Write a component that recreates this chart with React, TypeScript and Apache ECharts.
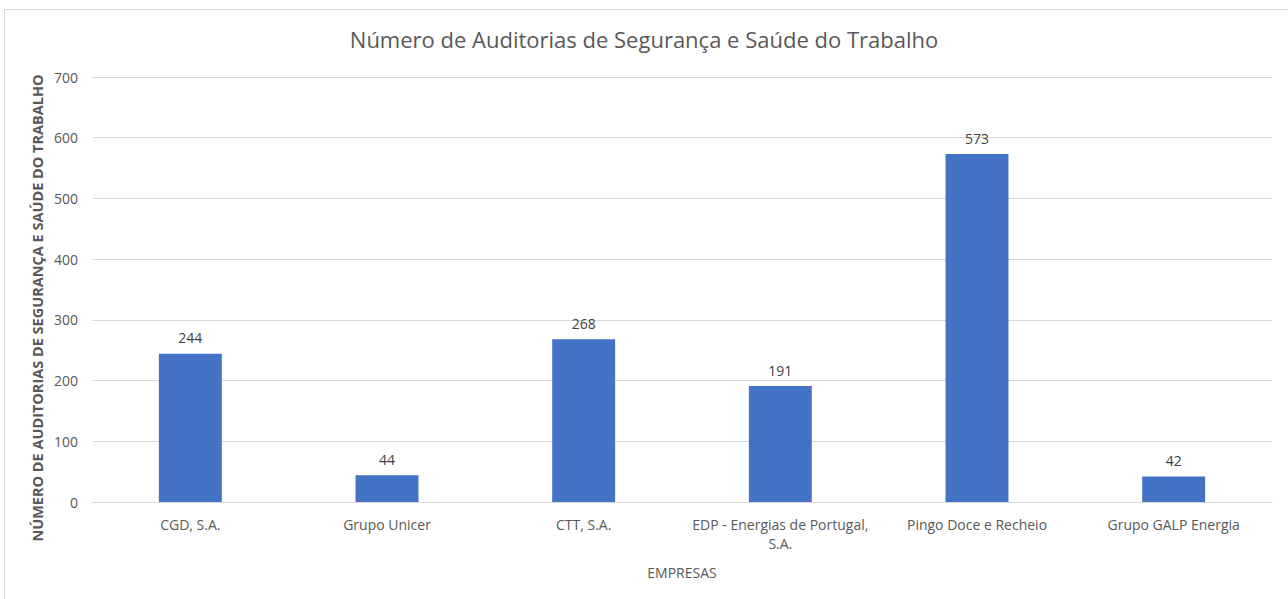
import React, { useEffect, useRef } from "react";
import * as echarts from "echarts";

const categories = [
  "CGD, S.A.",
  "Grupo Unicer",
  "CTT, S.A.",
  "EDP - Energias de Portugal,\nS.A.",
  "Pingo Doce e Recheio",
  "Grupo GALP Energia",
];
const values = [244, 44, 268, 191, 573, 42];
const titleText = "Número de Auditorias de Segurança e Saúde do Trabalho";
const yAxisName = "NÚMERO DE AUDITORIAS DE SEGURANÇA E SAÚDE DO TRABALHO";
const xAxisName = "EMPRESAS";

const FONT = "'Open Sans', sans-serif";

export default function App() {
  const ref = useRef<HTMLDivElement>(null);
  useEffect(() => {
    if (!ref.current) return;
    const chart = echarts.init(ref.current, undefined, { renderer: "svg" });
    chart.setOption({
      animation: false,
      backgroundColor: "#ffffff",
      textStyle: { fontFamily: FONT },
      title: {
        text: titleText,
        left: "center",
        top: 23,
        textStyle: { fontFamily: FONT, fontSize: 22, fontWeight: "normal", color: "#595959" },
      },
      graphic: [
        {
          type: "rect",
          shape: { x: 4.5, y: 9.5, width: 1300, height: 600 },
          style: { fill: "none", stroke: "#d9d9d9", lineWidth: 1 },
          silent: true,
        },
        {
          type: "text",
          x: 37,
          y: 308,
          rotation: Math.PI / 2,
          style: {
            text: yAxisName,
            fontFamily: FONT,
            fontSize: 14.5,
            fontWeight: "bold",
            fill: "#595959",
            align: "center",
            verticalAlign: "middle",
          },
          silent: true,
        },
      ],
      grid: { left: 92, right: 16, top: 77, bottom: 97 },
      xAxis: {
        type: "category",
        data: categories,
        name: xAxisName,
        nameLocation: "middle",
        nameGap: 63,
        nameTextStyle: { fontFamily: FONT, fontSize: 14, color: "#595959" },
        axisLine: { show: true, lineStyle: { color: "#d9d9d9" } },
        axisTick: { show: false },
        axisLabel: { fontFamily: FONT, fontSize: 14, color: "#595959", margin: 13, interval: 0, lineHeight: 19 },
      },
      yAxis: {
        type: "value",
        min: 0,
        max: 700,
        interval: 100,
        axisLine: { show: false },
        axisTick: { show: false },
        axisLabel: { fontFamily: FONT, fontSize: 14, color: "#595959", margin: 14 },
        splitLine: { lineStyle: { color: "#d9d9d9" } },
      },
      series: [
        {
          type: "bar",
          data: values,
          barWidth: "32%",
          itemStyle: { color: "#4472c4" },
          label: {
            show: true,
            position: "top",
            distance: 9,
            fontFamily: FONT,
            fontSize: 14,
            color: "#404040",
          },
        },
      ],
    });
    return () => chart.dispose();
  }, []);
  return (
    <div
      ref={ref}
      style={{ position: "absolute", left: 0, top: 0, width: 1288, height: 599 }}
    />
  );
}
